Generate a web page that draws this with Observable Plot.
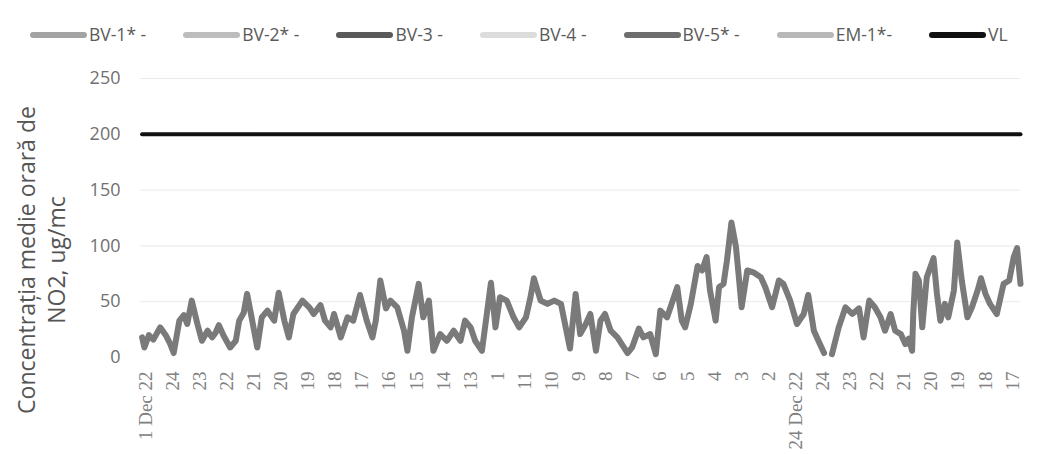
<!DOCTYPE html>
<html><head><meta charset="utf-8">
<script src="https://cdn.jsdelivr.net/npm/d3@7"></script>
<script src="https://cdn.jsdelivr.net/npm/@observablehq/plot@0.6"></script>
<style>
body{margin:0;background:#fff;width:1043px;height:454px;overflow:hidden;font-family:"Open Sans",sans-serif;}
#legend{height:50px;display:flex;align-items:center;gap:37px;padding-left:30px;padding-top:20px;box-sizing:border-box;}
.item{display:flex;align-items:center;color:#5a5a5a;font-size:17.5px;line-height:1;white-space:nowrap;}
.sw{width:57px;height:6px;border-radius:3px;margin-right:2px;}
#chart svg{display:block;}
</style></head><body>
<div id="legend"></div>
<div id="chart"></div>
<script>
// Legend series
const seriesLabels = ["BV-1* -","BV-2* -","BV-3 -","BV-4 -","BV-5* -","EM-1*-","VL"];
const seriesColors = ["#a3a3a3","#bdbdbd","#5a5a5a","#dcdcdc","#6e6e6e","#b8b8b8","#111111"];

// X tick labels (as printed on the axis)
const tickLabels = ["1 Dec 22","24","23","22","21","20","19","18","17","16","15","14","13","1","11","10","9","8","7","6","5","4","3","2","24 Dec 22","24","23","22","21","20","19","18","17"];

// Hourly NO2 concentration (hour offset, ug/mc)
const hours = [-3,-1,3,7,13,18,22,25,30,34,37,41,46,50,55,59,62,65,69,75,80,83,87,90,94,99,103,108,114,118,123,127,131,139,145,149,155,159,164,167,173,179,184,190,196,201,204,208,213,217,223,229,232,236,242,246,251,255,261,267,273,279,283,288,292,298,306,310,314,320,326,331,337,341,344,350,356,362,368,376,
381,385,390,394,399,403,407,412,418,427,431,437,441,447,452,456,462,466,471,475,478,483,489,493,497,500,505,508,512,515,519,523,525,528,533,539,545,549,555,561,565,571,577,583,587,592,596,601,604,608,614,620,626,632,636,641,646,651,655,660,664,669,673,676,679,680,682,685,688,692,698,701,704,708,711,716,719,723,728,732,737,740,744,748,754,760,765,769,772,775];
const no2 = [18,9,20,16,27,20,12,4,33,38,30,51,30,15,24,18,22,29,20,9,15,33,40,57,36,9,36,42,33,58,33,18,39,51,45,39,47,33,27,39,18,36,33,56,33,18,33,69,44,51,45,24,6,36,66,36,51,6,21,15,24,15,33,27,15,6,67,27,54,51,36,27,36,54,71,51,48,51,48,8,
57,21,30,39,6,33,39,24,18,4,9,26,18,21,3,42,36,48,63,33,27,48,82,78,90,60,33,63,66,87,121,99,78,45,78,76,72,63,45,69,66,51,30,39,56,24,15,4,null,3,27,45,39,44,18,51,45,36,24,39,24,21,12,17,6,39,75,69,27,72,89,57,33,48,36,60,103,69,36,45,60,71,57,48,39,66,69,90,98,66];

// Limit value (VL)
const limitValue = 200;
const yTicks = [0,50,100,150,200,250];

// Build legend
const legend = document.getElementById("legend");
seriesLabels.forEach((lab, i) => {
  const it = document.createElement("div"); it.className = "item";
  const sw = document.createElement("div"); sw.className = "sw"; sw.style.background = seriesColors[i];
  const tx = document.createElement("span"); tx.textContent = lab;
  it.appendChild(sw); it.appendChild(tx); legend.appendChild(it);
});

const data = hours.map((h, i) => ({h, v: no2[i]}));
const vl = hours.map(h => ({h, v: limitValue}));
const tickHours = tickLabels.map((_, i) => i * 24);
const labelOf = new Map(tickHours.map((h, i) => [h, tickLabels[i]]));

const chart = Plot.plot({
  width: 1043, height: 404,
  marginLeft: 140, marginRight: 23, marginTop: 28, marginBottom: 97,
  x: {type: "linear", domain: [-4.4, 775]},
  y: {domain: [0, 250]},
  style: {background: "#fff"},
  marks: [
    Plot.gridY([50,100,150,250], {stroke: "#c8c8c8", strokeOpacity: 0.4}),
    Plot.axisY(yTicks, {tickSize: 0, tickPadding: 20, fontFamily: "Open Sans", fontSize: 18, fill: "#707070", label: null}),
    Plot.axisX(tickHours, {tickSize: 0, tickPadding: 14, tickRotate: -90, tickFormat: d => labelOf.get(d), fontFamily: "Liberation Serif", fontSize: 19, fill: "#808080", label: null}),
    Plot.line(vl, {x: "h", y: "v", stroke: "#111", strokeWidth: 4}),
    Plot.line(data, {x: "h", y: "v", stroke: "#7a7a7a", strokeWidth: 6, strokeLinejoin: "round", strokeLinecap: "round"}),
    Plot.text(["Concentrația medie orară de\nNO2, ug/mc"], {frameAnchor: "left", dx: -100, dy: 42, rotate: -90, fontSize: 23, fontFamily: "Open Sans", fill: "#555", lineHeight: 1.3, textAnchor: "middle"})
  ]
});
document.getElementById("chart").appendChild(chart);
</script>
</body></html>
